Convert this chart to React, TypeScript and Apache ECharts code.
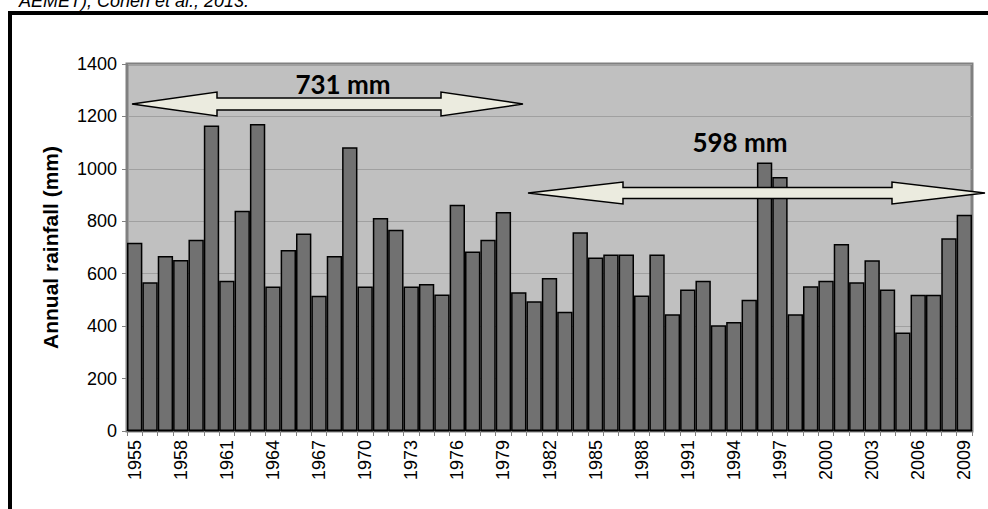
import React, { useEffect, useRef } from "react";
import * as echarts from "echarts";

const years: string[] = [];
for (let y = 1955; y <= 2009; y++) years.push(String(y));

const rainfall: number[] = [
  718, 567, 668, 652, 730, 1165, 573, 840, 1171, 551,
  690, 753, 516, 668, 1082, 551, 813, 768, 551, 561,
  521, 863, 685, 730, 835, 529, 495, 584, 455, 758,
  662, 673, 673, 517, 673, 445, 540, 573, 403, 416,
  501, 1024, 969, 445, 552, 573, 713, 567, 651, 540,
  376, 520, 520, 735, 825,
];

const yTicks = { min: 0, max: 1400, interval: 200 };
const periodLabels = ["731 mm", "598 mm"];
const caption = "AEMET), Cohen et al., 2013.";
const yTitle = "Annual rainfall (mm)";

const FONT = 'Arial, "Liberation Sans", sans-serif';
const ARROW_FILL = "#ebebdf";

export default function App() {
  const ref = useRef<HTMLDivElement>(null);
  useEffect(() => {
    if (!ref.current) return;
    const chart = echarts.init(ref.current, undefined, { renderer: "svg" });
    const arrow1 = [
      [132, 104], [217, 92], [217, 98], [441, 98], [441, 92], [523, 104],
      [441, 116], [441, 110], [217, 110], [217, 116],
    ];
    const arrow2 = [
      [528, 193], [623, 182], [623, 187.5], [892, 187.5], [892, 182], [985, 193],
      [892, 204], [892, 198.5], [623, 198.5], [623, 204],
    ];
    chart.setOption({
      animation: false,
      backgroundColor: "#ffffff",
      grid: {
        left: 127,
        top: 64,
        right: 16,
        bottom: 78,
        show: true,
        backgroundColor: "#c0c0c0",
        borderColor: "#808080",
        borderWidth: 3,
      },
      xAxis: {
        type: "category",
        data: years,
        boundaryGap: true,
        axisLine: { show: true, lineStyle: { color: "#333", width: 1.5 } },
        axisTick: { show: true, interval: 0, length: 5, lineStyle: { color: "#808080" } },
        axisLabel: {
          interval: 2,
          rotate: 90,
          fontSize: 18,
          fontFamily: FONT,
          color: "#000",
          margin: 9,
        },
        splitLine: { show: false },
      },
      yAxis: {
        type: "value",
        min: yTicks.min,
        max: yTicks.max,
        interval: yTicks.interval,
        name: yTitle,
        nameLocation: "middle",
        nameGap: 66,
        nameRotate: 90,
        nameTextStyle: { fontSize: 21, fontWeight: "bold", fontFamily: FONT, color: "#000" },
        axisLine: { show: true, lineStyle: { color: "#808080", width: 2 } },
        axisTick: { show: true, length: 5, inside: false, lineStyle: { color: "#808080" } },
        axisLabel: {
          fontSize: 18,
          fontFamily: FONT,
          color: "#000",
          margin: 10,
          formatter: (v: number) => String(v),
        },
        splitLine: { show: true, lineStyle: { color: "#a0a0a0", width: 1 } },
      },
      series: [
        {
          type: "bar",
          data: rainfall,
          barCategoryGap: "0%",
          itemStyle: { color: "#717171", borderColor: "#000", borderWidth: 1.5 },
        },
      ],
      graphic: [
        {
          type: "rect",
          shape: { x: 10, y: 13, width: 1100, height: 700 },
          style: { fill: "none", stroke: "#000", lineWidth: 4 },
          z: 100,
        },
        {
          type: "text",
          x: 249,
          y: 10,
          style: {
            text: caption,
            fontSize: 18,
            fontStyle: "italic",
            fontFamily: FONT,
            fill: "#000",
            align: "right",
            verticalAlign: "bottom",
          },
          z: 100,
        },
        {
          type: "polygon",
          shape: { points: arrow1 },
          style: { fill: ARROW_FILL, stroke: "#000", lineWidth: 1.5 },
          z: 100,
        },
        {
          type: "polygon",
          shape: { points: arrow2 },
          style: { fill: ARROW_FILL, stroke: "#000", lineWidth: 1.5 },
          z: 100,
        },
        {
          type: "text",
          x: 343,
          y: 84,
          style: {
            text: periodLabels[0],
            fontSize: 26,
            fontWeight: "bold",
            fontFamily: "Lato, sans-serif",
            fill: "#000",
            align: "center",
            verticalAlign: "middle",
          },
          z: 100,
        },
        {
          type: "text",
          x: 740,
          y: 142,
          style: {
            text: periodLabels[1],
            fontSize: 26,
            fontWeight: "bold",
            fontFamily: "Lato, sans-serif",
            fill: "#000",
            align: "center",
            verticalAlign: "middle",
          },
          z: 100,
        },
      ],
    });
    return () => chart.dispose();
  }, []);
  return (
    <div
      ref={ref}
      style={{ position: "fixed", left: 0, top: 0, width: 988, height: 509 }}
    />
  );
}
